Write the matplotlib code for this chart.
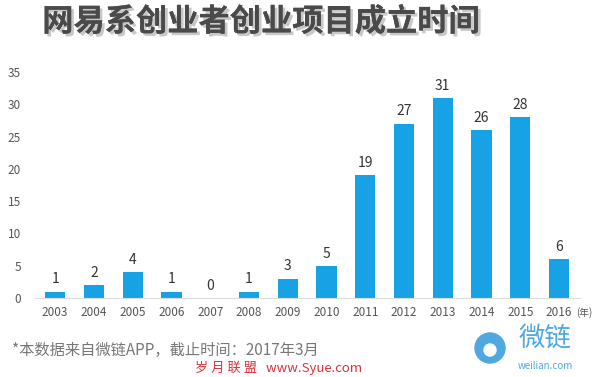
import matplotlib.pyplot as plt
import matplotlib.patheffects as pe
from matplotlib.patches import Ellipse

plt.rcParams['font.family'] = ['Noto Sans CJK SC', 'DejaVu Sans']

years = ['2003', '2004', '2005', '2006', '2007', '2008', '2009',
         '2010', '2011', '2012', '2013', '2014', '2015', '2016']
counts = [1, 2, 4, 1, 0, 1, 3, 5, 19, 27, 31, 26, 28, 6]
yticks = [0, 5, 10, 15, 20, 25, 30, 35]

fig = plt.figure(figsize=(6, 3.77), dpi=100)
ax = fig.add_axes([35 / 600, 79 / 377, 545 / 600, 226 / 377])

x = range(len(years))
ax.bar(x, counts, width=0.52, color='#17a2e6')
for i, v in zip(x, counts):
    ax.text(i, v + 0.8, str(v), ha='center', va='bottom', fontsize=10, color='#333333')

ax.set_xlim(-0.52, 13.54)
ax.set_ylim(0, 35)
ax.set_yticks(yticks)
ax.set_xticks(list(x))
ax.set_xticklabels(years)
ax.tick_params(axis='both', length=0, labelsize=8.5, colors='#555555')
ax.tick_params(axis='y', pad=10)
ax.tick_params(axis='x', pad=6)
for s in ['top', 'right', 'left']:
    ax.spines[s].set_visible(False)
ax.spines['bottom'].set_color('#dddddd')

fig.text(592 / 600, 1 - 313 / 377, '(年)', ha='right', va='center', fontsize=7, color='#555555')

t = fig.text(261 / 600, 1 - 22 / 377, '网易系创业者创业项目成立时间', ha='center', va='center',
             fontsize=22.5, fontweight='bold', color='#4a4a4a')
t.set_path_effects([pe.withSimplePatchShadow(offset=(2, -2), shadow_rgbFace='#bbbbbb', alpha=0.8),
                    pe.Normal()])

fig.text(12 / 600, 1 - 350 / 377, '*本数据来自微链APP，截止时间：2017年3月', ha='left', va='center',
         fontsize=11, color='#777777')
fig.text(195 / 600, 1 - 368 / 377, '岁 月 联 盟   www.Syue.com', ha='left', va='center',
         fontsize=9.5, color='#e0303a')

fig.text(545 / 600, 1 - 338 / 377, '微链', ha='center', va='center', fontsize=19, color='#4fa8df')
fig.text(545 / 600, 1 - 366 / 377, 'weilian.com', ha='center', va='center', fontsize=7, color='#4fa8df')
body = Ellipse((490 / 600, 1 - 348 / 377), 30 / 600, 30 / 377, transform=fig.transFigure,
               color='#4fa8df', clip_on=False)
eye = Ellipse((490 / 600, 1 - 350 / 377), 12 / 600, 12 / 377, transform=fig.transFigure,
              color='white', clip_on=False)
fig.patches.append(body)
fig.patches.append(eye)

fig.savefig('out.png', dpi=100)
